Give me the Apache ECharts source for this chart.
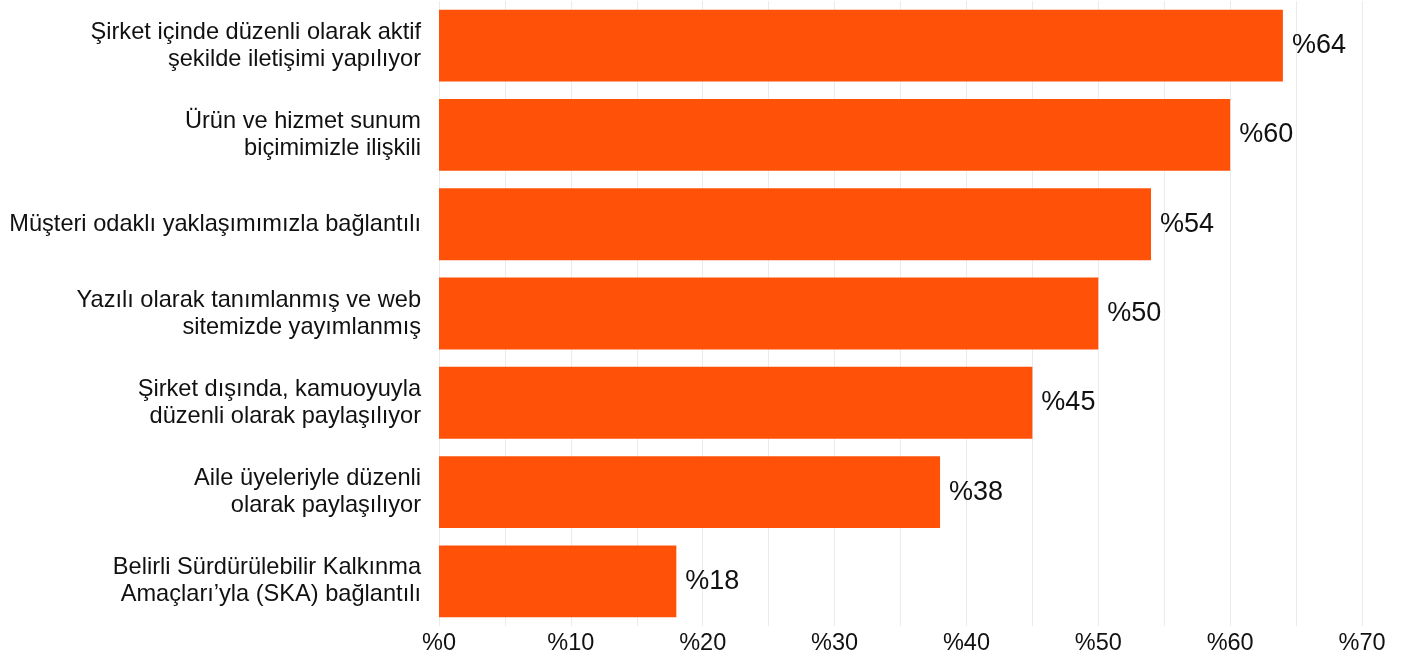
<!DOCTYPE html>
<html>
<head>
<meta charset="utf-8">
<script src="https://cdn.jsdelivr.net/npm/echarts@6/dist/echarts.min.js"></script>
<style>
  html, body { margin: 0; padding: 0; background: #fff; }
  #chart { width: 1414px; height: 659px; }
</style>
</head>
<body>
<div id="chart"></div>
<script>
var categories = [
  'Şirket içinde düzenli olarak aktif\nşekilde iletişimi yapılıyor',
  'Ürün ve hizmet sunum\nbiçimimizle ilişkili',
  'Müşteri odaklı yaklaşımımızla bağlantılı',
  'Yazılı olarak tanımlanmış ve web\nsitemizde yayımlanmış',
  'Şirket dışında, kamuoyuyla\ndüzenli olarak paylaşılıyor',
  'Aile üyeleriyle düzenli\nolarak paylaşılıyor',
  'Belirli Sürdürülebilir Kalkınma\nAmaçları’yla (SKA) bağlantılı'
]
var values = [64, 60, 54, 50, 45, 38, 18]
var xMin = 0
var xMax = 70
var xStep = 10

var chart = echarts.init(document.getElementById('chart'))
var font = '"Liberation Sans", Arial, Helvetica, sans-serif'

var option = {
  animation: false,
  textStyle: { fontFamily: font },
  grid: {
    left: 439,
    right: 52,
    top: 1,
    bottom: 33,
    containLabel: false
  },
  xAxis: {
    type: 'value',
    min: xMin,
    max: xMax,
    interval: xStep,
    axisLine: { show: false },
    axisTick: { show: false },
    minorTick: { show: false, splitNumber: 2 },
    splitLine: { show: true, lineStyle: { color: '#ebebeb', width: 1 } },
    minorSplitLine: { show: true, lineStyle: { color: '#ebebeb', width: 1 } },
    axisLabel: {
      margin: 6,
      color: '#111',
      fontSize: 23.5,
      fontFamily: font,
      formatter: function (v) { return '%' + v }
    }
  },
  yAxis: {
    type: 'category',
    data: categories,
    inverse: true,
    axisLine: { show: false },
    axisTick: { show: false },
    splitLine: { show: false },
    axisLabel: {
      margin: 18,
      color: '#111',
      fontSize: 23.6,
      lineHeight: 27,
      align: 'right',
      fontFamily: font
    }
  },
  series: [{
    type: 'bar',
    data: values,
    barCategoryGap: '19.5%',
    itemStyle: { color: '#ff5208' },
    label: {
      show: true,
      position: 'right',
      distance: 9,
      color: '#111',
      fontSize: 27,
      fontFamily: font,
      formatter: function (p) { return '%' + p.value }
    }
  }]
}
chart.setOption(option)
</script>
</body>
</html>
